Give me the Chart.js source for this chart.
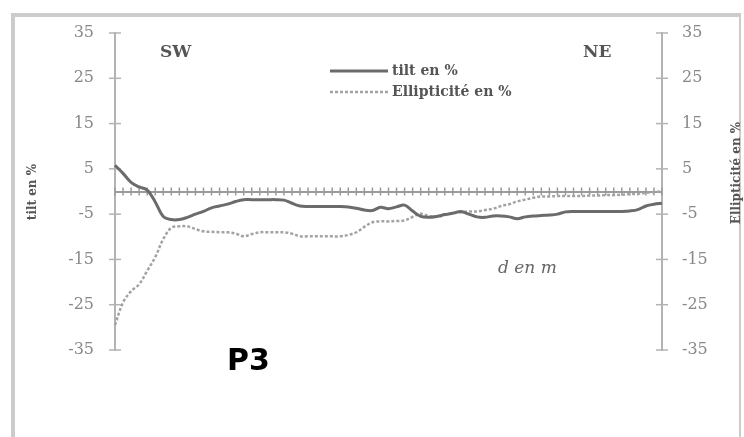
<!DOCTYPE html>
<html>
<head>
<meta charset="utf-8">
<script src="https://cdn.jsdelivr.net/npm/chart.js@4/dist/chart.umd.min.js"></script>
<style>
    body { margin: 0; background: #fff; }
    #wrap { position: relative; width: 744px; height: 437px; }
    #frame { position: absolute; left: 11px; top: 13px; width: 724px; height: 420px; border: 4px solid #cccccc; border-right-width: 2px; }
    #profileChart { position: absolute; left: 0; top: 0; }
</style>
</head>
<body>
<div id="wrap">
    <div id="frame"></div>
    <canvas id="profileChart" width="744" height="437"></canvas>
</div>
<script>
// distance steps along the profile (unlabelled on the picture)
const distance = [0, 1, 2, 3, 4, 5, 6, 7, 8, 9, 10, 11, 12, 13, 14, 15, 16, 17, 18, 19,
    20, 21, 22, 23, 24, 25, 26, 27, 28, 29, 30, 31, 32, 33, 34, 35, 36, 37, 38, 39,
    40, 41, 42, 43, 44, 45, 46, 47, 48, 49, 50, 51, 52, 53, 54, 55, 56, 57, 58, 59,
    60, 61, 62, 63, 64, 65, 66, 67, 68];

const tiltPct = [5.8, 4.0, 2.0, 1.0, 0.3, -2.3, -5.5, -6.2, -6.2, -5.7,
    -5.0, -4.4, -3.6, -3.2, -2.8, -2.2, -1.8, -1.8, -1.8, -1.8,
    -1.8, -1.9, -2.6, -3.2, -3.3, -3.3, -3.3, -3.3, -3.3, -3.4,
    -3.7, -4.1, -4.2, -3.5, -3.8, -3.4, -3.0, -4.3, -5.5, -5.7,
    -5.5, -5.1, -4.8, -4.4, -5.0, -5.6, -5.7, -5.4, -5.4, -5.6,
    -6.0, -5.6, -5.4, -5.3, -5.2, -5.0, -4.5, -4.4, -4.4, -4.4,
    -4.4, -4.4, -4.4, -4.4, -4.3, -4.0, -3.2, -2.8, -2.6];

const ellipticityPct = [-29.5, -24.5, -22.0, -20.5, -17.5, -14.5, -10.5, -8.0, -7.7, -7.7,
    -8.3, -8.8, -8.9, -9.0, -9.0, -9.3, -9.9, -9.4, -9.0, -9.0,
    -9.0, -9.0, -9.3, -9.9, -9.9, -9.9, -9.9, -9.9, -9.9, -9.6,
    -9.0, -7.8, -6.8, -6.6, -6.6, -6.5, -6.4, -5.6, -4.9, -5.4,
    -5.6, -5.2, -4.8, -4.6, -4.4, -4.4, -4.1, -3.8, -3.2, -2.8,
    -2.2, -1.8, -1.4, -1.1, -1.1, -1.0, -1.0, -1.0, -1.0, -0.9,
    -0.9, -0.8, -0.8, -0.7, -0.6, -0.5, -0.3, -0.1, 0.0];

const yTicks = [-35, -25, -15, -5, 5, 15, 25, 35];

const axisGray = '#b3b3b3';
const tickFont = { family: 'DejaVu Serif', size: 16 };

// small cross marks on the axes, like the original spreadsheet chart
const crossTicks = {
    id: 'crossTicks',
    beforeDatasetsDraw(chart) {
        const ctx = chart.ctx;
        const area = chart.chartArea;
        const xs = chart.scales.x;
        const y0 = chart.scales.y.getPixelForValue(0);
        ctx.save();
        ctx.strokeStyle = '#9a9a9a';
        ctx.lineWidth = 1.5;
        xs.ticks.forEach((t, i) => {
            const px = xs.getPixelForTick(i);
            ctx.beginPath();
            ctx.moveTo(px, y0 - 4);
            ctx.lineTo(px, y0 + 4);
            ctx.stroke();
        });
        ctx.strokeStyle = axisGray;
        [chart.scales.y, chart.scales.y2].forEach(s => {
            const ax = s.position === 'left' ? area.left : area.right;
            s.ticks.forEach((t, i) => {
                const py = s.getPixelForTick(i);
                ctx.beginPath();
                ctx.moveTo(ax - 6, py);
                ctx.lineTo(ax + 6, py);
                ctx.stroke();
            });
        });
        ctx.restore();
    }
};

// legend, axis titles and the free text notes
const notes = {
    id: 'notes',
    afterDatasetsDraw(chart) {
        const ctx = chart.ctx;
        ctx.save();
        ctx.textBaseline = 'middle';

        chart.data.datasets.forEach((ds, i) => {
            const y = 71 + i * 21;
            ctx.save();
            ctx.strokeStyle = ds.borderColor;
            ctx.lineWidth = ds.borderWidth;
            ctx.setLineDash(ds.borderDash || []);
            ctx.beginPath();
            ctx.moveTo(330, y);
            ctx.lineTo(388, y);
            ctx.stroke();
            ctx.restore();
            ctx.fillStyle = '#555';
            ctx.font = 'bold 14px "DejaVu Serif"';
            ctx.textAlign = 'left';
            ctx.fillText(ds.label, 392, y);
        });

        ctx.fillStyle = '#555';
        ctx.font = 'bold 17px "DejaVu Serif"';
        ctx.fillText('SW', 160, 53);
        ctx.fillText('NE', 583, 53);

        ctx.fillStyle = '#666';
        ctx.font = 'italic 17px "DejaVu Serif"';
        ctx.fillText('d en m', 498, 269);

        ctx.fillStyle = '#000';
        ctx.font = 'bold 30px "DejaVu Sans"';
        ctx.fillText('P3', 227, 362);

        ctx.fillStyle = '#555';
        ctx.font = 'bold 12px "DejaVu Serif"';
        ctx.textAlign = 'center';
        ctx.save();
        ctx.translate(33, 192);
        ctx.rotate(-Math.PI / 2);
        ctx.fillText('tilt en %', 0, 0);
        ctx.restore();
        ctx.save();
        ctx.translate(737, 173);
        ctx.rotate(-Math.PI / 2);
        ctx.fillText('Ellipticité en %', 0, 0);
        ctx.restore();

        ctx.restore();
    }
};

function yAxis(position, width, pad) {
    return {
        type: 'linear',
        position: position,
        min: -35,
        max: 35,
        afterBuildTicks: scale => {
            scale.ticks = yTicks.map(v => ({ value: v }));
        },
        afterFit: scale => {
            scale.width = width;
        },
        ticks: {
            color: '#888',
            font: tickFont,
            padding: pad
        },
        grid: {
            drawOnChartArea: false,
            drawTicks: false
        },
        border: {
            color: axisGray,
            width: 2
        }
    };
}

const ctx = document.getElementById('profileChart').getContext('2d');
new Chart(ctx, {
    type: 'line',
    data: {
        labels: distance,
        datasets: [{
            label: 'tilt en %',
            data: tiltPct,
            borderColor: '#6b6b6b',
            borderWidth: 3,
            pointRadius: 0,
            tension: 0.35,
            yAxisID: 'y'
        }, {
            label: 'Ellipticité en %',
            data: ellipticityPct,
            borderColor: '#a3a3a3',
            borderWidth: 2.5,
            borderDash: [3, 2],
            pointRadius: 0,
            tension: 0.35,
            yAxisID: 'y2'
        }]
    },
    options: {
        responsive: false,
        animation: false,
        layout: {
            padding: { left: 0, right: 0, top: 33, bottom: 87 }
        },
        scales: {
            x: {
                type: 'category',
                position: { y: 0 },
                ticks: { display: false, autoSkip: false },
                grid: { drawOnChartArea: false, drawTicks: false },
                border: { color: '#9a9a9a', width: 2 }
            },
            y: yAxis('left', 115, 21),
            y2: yAxis('right', 82, 20)
        },
        plugins: {
            legend: { display: false },
            tooltip: { enabled: false }
        }
    },
    plugins: [crossTicks, notes]
});
</script>
</body>
</html>
